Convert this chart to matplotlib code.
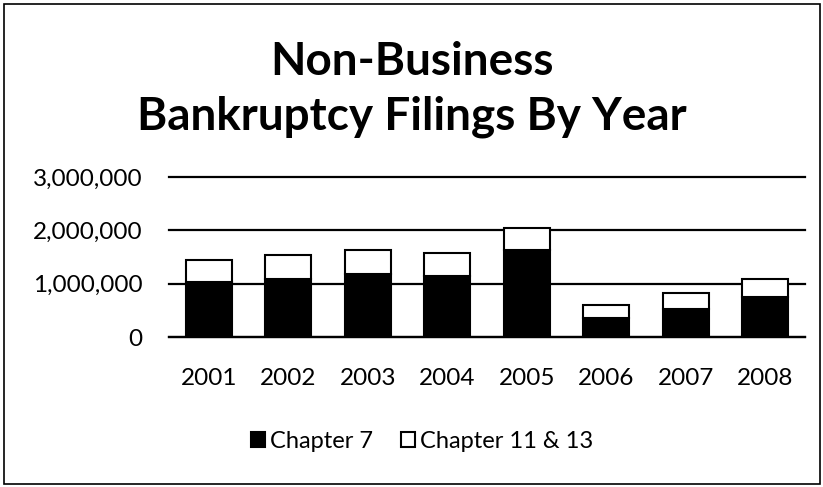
import matplotlib.pyplot as plt
import numpy as np
from matplotlib.patches import Rectangle

# Data (filings per year)
years = ['2001', '2002', '2003', '2004', '2005', '2006', '2007', '2008']
chapter_7 = [1040000, 1090000, 1180000, 1140000, 1640000, 360000, 530000, 750000]
chapter_11_13 = [410000, 440000, 460000, 430000, 400000, 240000, 300000, 340000]
y_ticks = [0, 1000000, 2000000, 3000000]

plt.rcParams['font.family'] = ['Lato', 'DejaVu Sans']

fig = plt.figure(figsize=(8.23, 4.87), dpi=100)
ax = fig.add_axes([169 / 823, 1 - 337 / 487, (805 - 169) / 823, (337 - 177) / 487])

x = np.arange(len(years))
ax.bar(x, chapter_7, width=0.58, color='black', edgecolor='black', linewidth=1.5,
       label='Chapter 7', zorder=3)
ax.bar(x, chapter_11_13, width=0.58, bottom=chapter_7, color='white', edgecolor='black',
       linewidth=1.5, label='Chapter 11 & 13', zorder=3)

ax.set_xlim(-0.5, len(years) - 0.5)
ax.set_ylim(0, 3000000)
ax.set_yticks(y_ticks)
ax.set_yticklabels([f'{v:,}' for v in y_ticks], fontsize=17.5)
ax.set_xticks(x)
ax.set_xticklabels(years, fontsize=17.5)
ax.tick_params(length=0)
ax.tick_params(axis='x', pad=22)
ax.tick_params(axis='y', pad=19)
ax.yaxis.grid(True, color='black', linewidth=1.6, zorder=0)
for line in ax.get_ygridlines():
    line.set_clip_on(False)
for s in ['left', 'right', 'top']:
    ax.spines[s].set_visible(False)
ax.spines['bottom'].set_linewidth(1.6)

fig.text(0.5, 1 - 62 / 487, 'Non-Business', ha='center', va='center',
         fontsize=33, fontweight='bold')
fig.text(0.5, 1 - 117 / 487, 'Bankruptcy Filings By Year', ha='center', va='center',
         fontsize=33, fontweight='bold')

fig.legend(loc='center', bbox_to_anchor=(422 / 823, 1 - 441 / 487), ncol=2,
           frameon=False, fontsize=17, handlelength=0.6, handleheight=0.6,
           handletextpad=0.2, columnspacing=1.2)

fig.patches.append(Rectangle((4 / 823, 3 / 487), 816 / 823, 480 / 487, transform=fig.transFigure,
                             fill=False, edgecolor='black', linewidth=1.2))

fig.savefig('out.png', dpi=100)
